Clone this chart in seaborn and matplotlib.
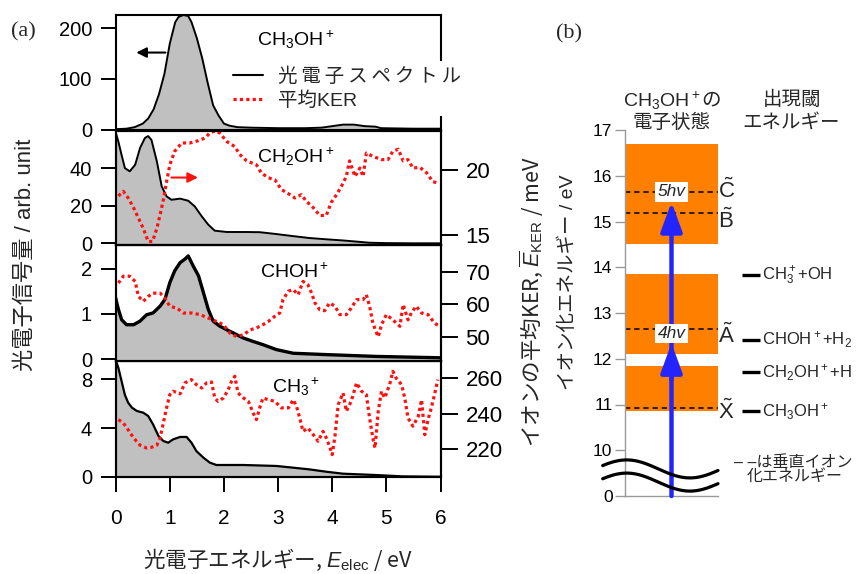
import numpy as np
import matplotlib
matplotlib.use("Agg")
import matplotlib.pyplot as plt
import seaborn as sns
from matplotlib.lines import Line2D

# ---------------- (a) photoelectron spectra, arb. unit ----------------
ch3oh_e = [0.0, 0.2, 0.35, 0.5, 0.6, 0.7, 0.8, 0.9, 1.0, 1.1, 1.16, 1.25, 1.34, 1.4,
           1.5, 1.6, 1.7, 1.8, 1.9, 2.0, 2.1, 2.25, 2.5, 3.0, 3.5, 3.8, 4.0, 4.2, 4.4,
           4.6, 4.8, 4.9, 5.5, 6.0]
ch3oh_s = [1, 2, 5, 12, 22, 40, 70, 110, 170, 212, 222, 226, 224, 212,
           180, 140, 92, 48, 28, 12, 8, 5, 4, 3, 3, 4, 7, 10, 10,
           7, 6, 3, 2, 2]

ch2oh_e = [0.0, 0.05, 0.1, 0.17, 0.26, 0.36, 0.45, 0.54, 0.6, 0.66, 0.76, 0.85, 0.94,
           1.03, 1.19, 1.34, 1.46, 1.59, 1.71, 1.83, 2.05, 2.4, 2.66, 2.97, 3.28, 3.58,
           3.9, 4.2, 4.45, 4.69, 5.0, 5.5, 6.0]
ch2oh_s = [59, 54, 48, 40, 38.3, 41.8, 50.7, 56, 57, 55, 43.6, 30.3, 25,
           23.2, 23.8, 22.7, 19.7, 14.4, 10, 6.8, 6.1, 6.1, 6.0, 5.0, 3.9, 2.9,
           2.2, 1.6, 1.0, 0.4, 0.2, 0.1, 0.1]

choh_e = [0.0, 0.02, 0.05, 0.11, 0.2, 0.33, 0.45, 0.57, 0.69, 0.82, 0.91, 1.0, 1.09,
          1.19, 1.28, 1.34, 1.43, 1.53, 1.62, 1.71, 1.8, 1.92, 2.05, 2.17, 2.35, 2.54,
          2.72, 2.97, 3.28, 3.89, 4.81, 6.0]
choh_s = [1.35, 1.24, 1.1, 0.87, 0.76, 0.76, 0.84, 0.98, 1.02, 1.17, 1.32, 1.69, 1.95,
          2.13, 2.21, 2.28, 2.06, 1.84, 1.47, 1.1, 0.84, 0.73, 0.65, 0.58, 0.47, 0.39,
          0.32, 0.21, 0.13, 0.1, 0.06, 0.03]

ch3_e = [0.0, 0.02, 0.05, 0.11, 0.17, 0.23, 0.3, 0.39, 0.51, 0.6, 0.69, 0.79, 0.88,
         0.97, 1.06, 1.19, 1.31, 1.4, 1.49, 1.62, 1.74, 1.86, 2.36, 2.97, 3.28, 3.58,
         3.89, 4.2, 4.81, 5.3, 6.0]
ch3_s = [9.4, 9.3, 8.9, 7.8, 6.7, 6.07, 5.66, 5.39, 5.25, 4.98, 4.3, 3.35, 2.94,
         2.8, 3.07, 3.27, 3.27, 2.8, 2.12, 1.58, 1.17, 0.98, 0.98, 0.9, 0.76, 0.62,
         0.43, 0.27, 0.16, 0.05, 0.02]

# ---------------- (a) mean kinetic energy release, meV ----------------
ker_ch2oh_e = [0.05, 0.14, 0.23, 0.33, 0.42, 0.51, 0.60, 0.68, 0.76, 0.82, 0.88, 0.94,
               1.00, 1.09, 1.22, 1.37, 1.53, 1.65, 1.74, 1.83, 1.92, 2.05, 2.20, 2.29,
               2.42, 2.60, 2.69, 2.82, 2.94, 3.06, 3.22, 3.31, 3.43, 3.52, 3.65, 3.77,
               3.89, 3.98, 4.08, 4.17, 4.26, 4.32, 4.42, 4.51, 4.57, 4.63, 4.75, 4.91,
               5.03, 5.12, 5.22, 5.31, 5.40, 5.49, 5.62, 5.74, 5.86, 5.95]
ker_ch2oh = [18.0, 18.36, 17.85, 17.1, 16.3, 15.5, 14.5, 14.5, 15.5, 16.56, 17.7, 19.1,
             20.4, 21.44, 22.08, 22.08, 22.26, 22.46, 22.85, 23.0, 22.85, 22.2, 21.8, 21.2,
             20.7, 20.4, 19.77, 19.4, 19.25, 18.5, 18.1, 17.85, 18.1, 17.6, 17.1, 16.5,
             16.5, 17.5, 18.1, 18.75, 19.5, 20.7, 19.5, 20.15, 19.5, 21.3, 21.05, 20.8,
             20.8, 21.44, 21.6, 20.7, 20.8, 20.15, 20.2, 19.8, 19.1, 19.0]

ker_choh_e = [0.05, 0.14, 0.26, 0.36, 0.42, 0.51, 0.60, 0.69, 0.82, 0.91, 1.00, 1.13,
              1.25, 1.40, 1.56, 1.71, 1.86, 1.99, 2.11, 2.23, 2.36, 2.48, 2.60, 2.72,
              2.82, 2.94, 3.03, 3.09, 3.19, 3.28, 3.37, 3.46, 3.55, 3.62, 3.68, 3.77,
              3.86, 3.95, 4.05, 4.14, 4.26, 4.35, 4.45, 4.57, 4.63, 4.69, 4.75, 4.82,
              4.85, 4.91, 5.00, 5.12, 5.25, 5.31, 5.40, 5.46, 5.55, 5.65, 5.77, 5.89, 5.98]
ker_choh = [66.5, 68.6, 68.6, 67.0, 62.4, 60.9, 62.4, 63.4, 63.4, 61.9, 59.35, 58.8,
            57.3, 57.3, 56.8, 55.75, 54.7, 53.7, 51.1, 50.1, 50.6, 52.1, 52.7, 53.7,
            54.7, 56.3, 57.3, 61.4, 64.0, 64.5, 62.9, 67.0, 66.0, 63.4, 60.4, 58.3,
            58.0, 60.4, 59.4, 56.8, 56.8, 58.8, 61.4, 61.4, 62.9, 59.4, 54.2, 51.1,
            50.0, 53.7, 56.8, 55.2, 53.2, 59.9, 55.2, 57.3, 59.4, 57.3, 56.8, 54.2, 53.2]

ker_ch3_e = [0.05, 0.14, 0.23, 0.33, 0.45, 0.57, 0.66, 0.76, 0.82, 0.88, 0.94, 1.00,
             1.06, 1.19, 1.28, 1.40, 1.49, 1.59, 1.68, 1.77, 1.83, 1.89, 1.99, 2.08,
             2.14, 2.20, 2.26, 2.36, 2.45, 2.54, 2.60, 2.66, 2.72, 2.82, 2.94, 3.06,
             3.19, 3.28, 3.34, 3.40, 3.46, 3.55, 3.65, 3.74, 3.83, 3.89, 3.95, 4.00,
             4.05, 4.11, 4.20, 4.26, 4.35, 4.45, 4.54, 4.63, 4.69, 4.75, 4.79, 4.85,
             4.91, 4.97, 5.06, 5.12, 5.18, 5.28, 5.34, 5.40, 5.49, 5.59, 5.65, 5.71,
             5.77, 5.83, 5.89, 5.95]
ker_ch3 = [236.7, 234.8, 231.0, 226.4, 222.3, 220.7, 221.1, 222.3, 226.4, 234.8, 243.3,
           250.8, 252.7, 251.2, 257.4, 259.2, 256.4, 254.5, 257.4, 257.9, 248.9, 247.0,
           248.9, 253.6, 258.3, 261.1, 251.7, 248.9, 247.0, 240.4, 236.7, 243.3, 248.9,
           247.9, 247.0, 243.3, 243.3, 247.9, 244.2, 237.6, 230.1, 232.0, 228.2, 224.5,
           230.1, 226.4, 221.7, 217.0, 227.3, 245.1, 251.7, 241.4, 247.0, 257.4, 252.7,
           250.8, 237.6, 226.4, 220.7, 241.4, 252.7, 248.9, 256.4, 263.9, 260.1, 256.4,
           248.9, 237.6, 233.0, 238.6, 247.9, 228.2, 236.7, 243.3, 250.8, 259.2]

ion_names = [r"CH$_3$OH$^+$", r"CH$_2$OH$^+$", r"CHOH$^+$", r"CH$_3$$^+$"]

# ---------------- (b) energy levels, eV ----------------
band_lo = [10.85, 12.10, 14.50]
band_hi = [11.85, 13.85, 16.70]
state_names = [r"$\tilde{\mathrm{X}}$", r"$\tilde{\mathrm{A}}$",
               r"$\tilde{\mathrm{B}}$", r"$\tilde{\mathrm{C}}$"]
state_vie = [10.93, 12.65, 15.18, 15.64]
thr_names = [r"CH$_3$OH$^+$", r"CH$_2$OH$^+$+H", r"CHOH$^+$+H$_2$", r"CH$_3^+$+OH"]
thr_energy = [10.85, 11.70, 12.41, 13.82]
photon_ev = 3.085
photon_counts = [4, 5]
level_ticks = [0, 10, 11, 12, 13, 14, 15, 16, 17]

# ---------------- style ----------------
sns.set_theme(style="white")
plt.rcParams["font.family"] = ["Liberation Sans", "Noto Sans CJK JP", "DejaVu Sans"]
plt.rcParams["mathtext.fontset"] = "custom"
plt.rcParams["mathtext.rm"] = "Liberation Sans"
plt.rcParams["mathtext.it"] = "Liberation Sans:italic"
plt.rcParams["mathtext.bf"] = "Liberation Sans:bold"
plt.rcParams["axes.unicode_minus"] = False

JP = ["Noto Sans CJK JP", "DejaVu Sans"]
GRAY_FILL = "#c0c0c0"
RED = "#ff1010"
ORANGE = "#ff8000"
BLUE = "#2424ff"
KER_LS = (0, (1, 1))

W, H = 861, 574
fig = plt.figure(figsize=(W / 100, H / 100), dpi=100)
fig.patch.set_facecolor("white")


def rect(l, t, r, b):
    return [l / W, 1 - b / H, (r - l) / W, (b - t) / H]


def style_axes(ax):
    for sp in ax.spines.values():
        sp.set_visible(True)
        sp.set_color("black")
        sp.set_linewidth(1.5)
    ax.set_facecolor("none")


XL, XR = 115.7, 440.5
panel_px = [(15, 129.7), (131, 245), (245, 360.5), (361, 477)]
spectra = [(ch3oh_e, ch3oh_s), (ch2oh_e, ch2oh_s), (choh_e, choh_s), (ch3_e, ch3_s)]
left_lims = [(0, 226), (-0.8, 59.7), (-0.03, 2.52), (0.0, 9.47)]
left_ticks = [[0, 100, 200], [0, 20, 40], [0, 1, 2], [0, 4, 8]]
kers = [None, (ker_ch2oh_e, ker_ch2oh), (ker_choh_e, ker_choh), (ker_ch3_e, ker_ch3)]
right_lims = [None, (14.23, 23.0), (42.7, 78.2), (204.4, 269.7)]
right_ticks = [None, [15, 20], [50, 60, 70], [220, 240, 260]]
name_pos = [(0.434, 0.73), (0.434, 0.72), (0.444, 0.714), (0.48, 0.724)]
line_w = [1.4, 1.4, 2.4, 1.6]

axes = []
for i in range(4):
    top, bot = panel_px[i]
    ax = fig.add_axes(rect(XL, top, XR, bot))
    style_axes(ax)
    e, s = spectra[i]
    ax.fill_between(e, s, 0, color=GRAY_FILL, lw=0, zorder=1)
    sns.lineplot(x=e, y=s, ax=ax, color="black", lw=line_w[i], estimator=None,
                 sort=False, legend=False, zorder=2)
    ax.set_xlim(0, 6)
    ax.set_ylim(*left_lims[i])
    ax.set_yticks(left_ticks[i])
    ax.set_xlabel("")
    ax.set_ylabel("")
    ax.tick_params(axis="y", left=True, direction="out", length=11, width=1.4,
                   labelsize=14.5, pad=6, colors="black")
    if i < 3:
        ax.tick_params(axis="x", bottom=False, labelbottom=False)
    else:
        ax.set_xticks([0, 1, 2, 3, 4, 5, 6])
        ax.tick_params(axis="x", bottom=True, direction="out", length=11, width=1.4,
                       labelsize=15, pad=12, colors="black")
    ax.text(name_pos[i][0], name_pos[i][1], ion_names[i], transform=ax.transAxes,
            fontsize=14, ha="left", va="baseline", color="black")
    if kers[i] is not None:
        tw = ax.twinx()
        style_axes(tw)
        ke, kv = kers[i]
        sns.lineplot(x=ke, y=kv, ax=tw, color=RED, lw=2.3, linestyle=KER_LS,
                     estimator=None, sort=False, legend=False)
        tw.set_ylim(*right_lims[i])
        tw.set_yticks(right_ticks[i])
        tw.set_ylabel("")
        tw.tick_params(axis="y", right=True, direction="out", length=12, width=1.4,
                       labelsize=16, pad=6, colors="black")
        tw.tick_params(axis="x", bottom=False, labelbottom=False)
    axes.append(ax)

# axis indicators
axes[0].annotate("", xy=(0.38, 152), xytext=(0.92, 152),
                 arrowprops=dict(arrowstyle="-|>,head_length=0.5,head_width=0.25",
                                 color="black", lw=1.5, shrinkA=0, shrinkB=0,
                                 mutation_scale=12))
axes[1].annotate("", xy=(1.52, 35.0), xytext=(1.03, 35.0),
                 arrowprops=dict(arrowstyle="-|>,head_length=0.5,head_width=0.25",
                                 color=RED, lw=1.5, shrinkA=0, shrinkB=0,
                                 mutation_scale=12))

# legend
handles = [Line2D([], [], color="black", lw=1.5),
           Line2D([], [], color=RED, lw=2.3, linestyle=KER_LS)]
labels = ["光\u2009電\u2009子\u2009ス\u2009ペ\u2009ク\u2009ト\u2009ル", "平均KER"]
leg = axes[0].legend(handles, labels, loc="center left",
                     bbox_to_anchor=(227 / W, 1 - 88.5 / H),
                     bbox_transform=fig.transFigure, frameon=True, fancybox=False,
                     facecolor="white", edgecolor="none", framealpha=1,
                     borderpad=0.3, borderaxespad=0, handlelength=1.55,
                     handletextpad=0.75, labelspacing=0.3,
                     prop=dict(family=["Liberation Sans", "Noto Sans CJK JP", "DejaVu Sans"],
                               size=14))
leg.set_zorder(10)

# axis titles of (a)
fig.text(25 / W, 1 - 255 / H, "光電子信号量 / arb. unit", rotation=90,
         ha="center", va="center", fontsize=16)
fig.text(531 / W, 1 - 302 / H, r"イオンの平均KER, $\overline{E}_{\mathrm{KER}}$ / meV",
         family=JP, rotation=90, ha="center", va="center", fontsize=15.5)
fig.text(278 / W, 1 - 560 / H, r"光電子エネルギー, $E_{\mathrm{elec}}$ / eV",
         family=JP, ha="center", va="center", fontsize=15.5)
fig.text(23 / W, 1 - 32 / H, "(a)", family="Liberation Serif", ha="center",
         va="center", fontsize=16)
fig.text(569 / W, 1 - 34 / H, "(b)", family="Liberation Serif", ha="center",
         va="center", fontsize=16)

# ---------------- (b) ----------------
def fwd(y):
    y = np.asarray(y, dtype=float)
    return np.where(y >= 10, y, 9 + y / 10)


def inv(v):
    v = np.asarray(v, dtype=float)
    return np.where(v >= 10, v, (v - 9) * 10)


axb = fig.add_axes(rect(625, 130, 718, 496))
axb.set_facecolor("none")
axb.set_yscale("function", functions=(fwd, inv))
axb.set_xlim(0, 1)
axb.set_ylim(0, 17)
for side in ("top", "right"):
    axb.spines[side].set_visible(False)
for side in ("left", "bottom"):
    axb.spines[side].set_visible(True)
    axb.spines[side].set_color("#9a9a9a")
    axb.spines[side].set_linewidth(1.0)
axb.set_yticks(level_ticks)
axb.set_yticklabels([str(t) for t in level_ticks])
axb.yaxis.set_minor_locator(matplotlib.ticker.NullLocator())
axb.set_xticks([])
axb.tick_params(axis="y", left=True, direction="out", length=7, width=1.0,
                color="#9a9a9a", labelcolor="black", labelsize=12.5, pad=2)

axb.bar([0.5] * len(band_lo), np.subtract(band_hi, band_lo), bottom=band_lo,
        width=1.0, color=ORANGE, lw=0, zorder=1)
axb.hlines(state_vie, 0, 1, colors="black", linestyles=(0, (3.5, 2.5)), lw=1.1, zorder=2)

yx = axb.get_yaxis_transform()
label_shift = [-0.1, -0.15, -0.17, 0.02]
for nm, v, dv in zip(state_names, state_vie, label_shift):
    axb.text(1.005, v + dv, nm, transform=yx, fontsize=16, ha="left", va="center")

axb.hlines(thr_energy, 1.255, 1.45, colors="black", lw=2.4, clip_on=False)
for nm, v in zip(thr_names, thr_energy):
    axb.text(1.47, v, nm, fontsize=12, ha="left", va="center", clip_on=False)

arrow_kw = dict(arrowstyle="-|>,head_length=0.9,head_width=0.33", color=BLUE,
                lw=3.2, shrinkA=0, shrinkB=0, mutation_scale=20)
axb.annotate("", xy=(0.5, photon_counts[-1] * photon_ev), xytext=(0.5, 0),
             arrowprops=arrow_kw, annotation_clip=False, zorder=4)
for n in photon_counts[:-1]:
    axb.annotate("", xy=(0.5, n * photon_ev), xytext=(0.5, n * photon_ev - 0.8),
                 arrowprops=arrow_kw, annotation_clip=False, zorder=4)
for n in photon_counts:
    axb.text(0.5, n * photon_ev + 0.22, f"{n}hv", style="italic", fontsize=12.5,
             ha="center", va="center", zorder=5,
             bbox=dict(boxstyle="square,pad=0.12", fc="white", ec="none"))

# axis break
wx = np.linspace(-0.24, 1.0, 200)
for c in (0.074, 0.038):
    wy = c + 0.0246 * np.cos(2 * np.pi * (wx - 0.018) / 1.36)
    axb.plot(wx, wy, transform=axb.transAxes, color="black", lw=2.3,
             clip_on=False, zorder=6)

fig.text(568 / W, 1 - 282 / H, "イオン化エネルギー / eV", rotation=90,
         ha="center", va="center", fontsize=14)
fig.text(672 / W, 1 - 100 / H, r"$\mathrm{CH_3OH^+}$の", family=JP,
         ha="center", va="center", fontsize=14)
fig.text(672 / W, 1 - 123 / H, "電子状態", ha="center", va="center", fontsize=14)
fig.text(792 / W, 1 - 100 / H, "出現閾", ha="center", va="center", fontsize=14)
fig.text(791 / W, 1 - 123 / H, "エネルギー", ha="center", va="center", fontsize=14)
fig.text(793 / W, 1 - 462 / H, "– –は垂直イオン", ha="center", va="center", fontsize=11.5)
fig.text(795 / W, 1 - 476 / H, "化エネルギー", ha="center", va="center", fontsize=11.5)

fig.savefig("out.png", dpi=100, facecolor="white")
